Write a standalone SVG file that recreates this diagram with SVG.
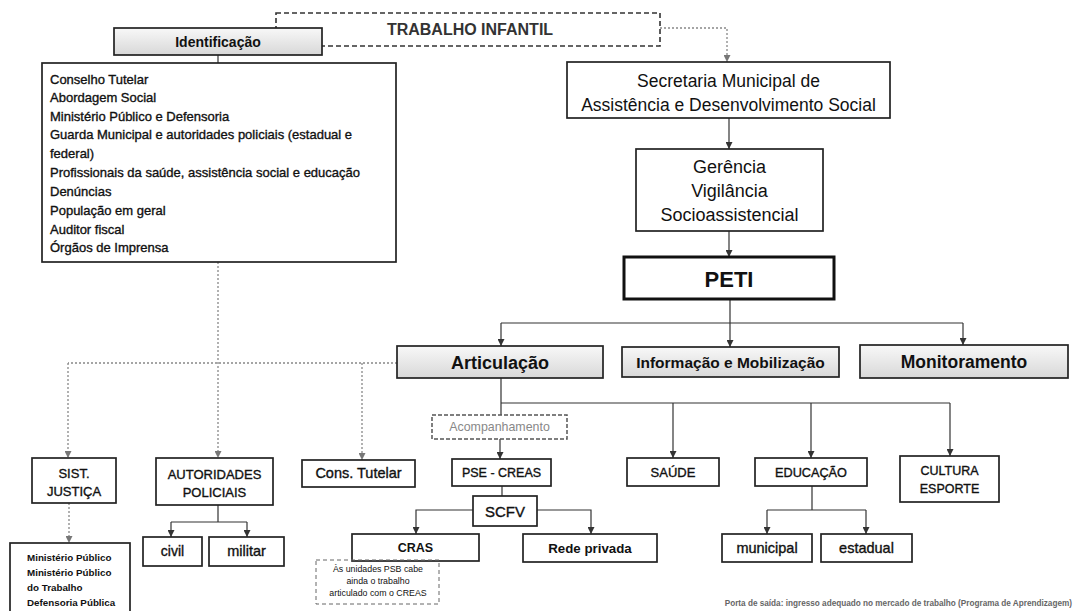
<svg xmlns="http://www.w3.org/2000/svg" width="1078" height="611" viewBox="0 0 1078 611">
<defs>
<linearGradient id="gf" x1="0" y1="0" x2="0" y2="1">
<stop offset="0" stop-color="#f8f8f8"/>
<stop offset="1" stop-color="#d8d8d8"/>
</linearGradient>
<marker id="ab" viewBox="0 0 8 8" refX="8" refY="4" markerWidth="7" markerHeight="7" markerUnits="userSpaceOnUse" orient="auto">
<path d="M0,0 L8,4 L0,8 z" fill="#333"/>
</marker>
<marker id="ag" viewBox="0 0 8 8" refX="8" refY="4" markerWidth="7" markerHeight="7" markerUnits="userSpaceOnUse" orient="auto">
<path d="M0,0 L8,4 L0,8 z" fill="#777"/>
</marker>
</defs>
<style>
text{font-family:"Liberation Sans",Arial,sans-serif;fill:#111}
.box{fill:#fff;stroke:#222;stroke-width:1.7}
.gbox{fill:url(#gf);stroke:#222;stroke-width:1.7}
.c{text-anchor:middle}
.b{font-weight:bold}
.m{stroke:#111;stroke-width:0.35}
.solid{fill:none;stroke:#333;stroke-width:1.2}
.dot{fill:none;stroke:#888;stroke-width:1.3;stroke-dasharray:2 2}
</style>
<rect width="1078" height="611" fill="#fff"/>

<g id="connectors">
<path class="dot" d="M660,28 H727 V62" marker-end="url(#ag)"/>
<path class="solid" d="M218,55 V63"/>
<path class="solid" d="M729,118 V149" marker-end="url(#ab)"/>
<path class="solid" d="M729,231 V257" marker-end="url(#ab)"/>
<path class="solid" d="M730,299 V323 M501,323 H963"/>
<path class="solid" d="M501,323 V346" marker-end="url(#ab)"/>
<path class="solid" d="M730,323 V347" marker-end="url(#ab)"/>
<path class="solid" d="M963,323 V345" marker-end="url(#ab)"/>
<path class="dot" d="M397,363 H68"/>
<path class="dot" d="M68,363 V458" marker-end="url(#ag)"/>
<path class="dot" d="M218,262 V458" marker-end="url(#ag)"/>
<path class="dot" d="M362,363 V460" marker-end="url(#ag)"/>
<path class="dot" d="M69,503 V543" marker-end="url(#ag)"/>
<path class="solid" d="M218,505 V522 M171,522 H247"/>
<path class="solid" d="M171,522 V537" marker-end="url(#ab)"/>
<path class="solid" d="M247,522 V537" marker-end="url(#ab)"/>
<path class="solid" d="M501,378 V415 M501,403 H950"/>
<path class="solid" d="M673,403 V458" marker-end="url(#ab)"/>
<path class="solid" d="M811,403 V458" marker-end="url(#ab)"/>
<path class="solid" d="M950,403 V456" marker-end="url(#ab)"/>
<path class="solid" d="M500,439 V459" marker-end="url(#ab)"/>
<path class="solid" d="M502,486 V496"/>
<path class="solid" d="M473,510 H416 V534" marker-end="url(#ab)"/>
<path class="solid" d="M537,510 H591 V534" marker-end="url(#ab)"/>
<path class="solid" d="M812,486 V510 M767,510 H866"/>
<path class="solid" d="M767,510 V534" marker-end="url(#ab)"/>
<path class="solid" d="M866,510 V534" marker-end="url(#ab)"/>
</g>

<g id="trabalho">
<rect x="276" y="13" width="384" height="33" fill="none" stroke="#333" stroke-width="1.6" stroke-dasharray="5 3"/>
<text x="470" y="35" class="c b" font-size="16" style="fill:#333">TRABALHO INFANTIL</text>
</g>
<g id="identificacao">
<rect class="gbox" x="114" y="28" width="208" height="27"/>
<text x="218" y="47" class="c b" font-size="14">Identificação</text>
</g>
<g id="lista" font-size="13">
<rect class="box" x="42" y="63" width="354" height="199"/>
<text class="m" x="50" y="84">Conselho Tutelar</text>
<text class="m" x="50" y="102">Abordagem Social</text>
<text class="m" x="50" y="121">Ministério Público e Defensoria</text>
<text class="m" x="50" y="139">Guarda Municipal e autoridades policiais (estadual e</text>
<text class="m" x="50" y="158">federal)</text>
<text class="m" x="50" y="177">Profissionais da saúde, assistência social e educação</text>
<text class="m" x="50" y="196">Denúncias</text>
<text class="m" x="50" y="215">População em geral</text>
<text class="m" x="50" y="234">Auditor fiscal</text>
<text class="m" x="50" y="252">Órgãos de Imprensa</text>
</g>
<g id="secretaria">
<rect class="box" x="567" y="62" width="323" height="56"/>
<text x="728.5" y="87" class="c" font-size="17.5">Secretaria Municipal de</text>
<text x="728.5" y="111" class="c" font-size="17.5">Assistência e Desenvolvimento Social</text>
</g>
<g id="gerencia">
<rect class="box" x="636" y="149" width="187" height="82"/>
<text x="729.5" y="173" class="c" font-size="18">Gerência</text>
<text x="729.5" y="197" class="c" font-size="18">Vigilância</text>
<text x="729.5" y="221" class="c" font-size="18">Socioassistencial</text>
</g>
<g id="peti">
<rect x="624" y="257" width="210" height="42" fill="#fff" stroke="#111" stroke-width="3"/>
<text x="729" y="287" class="c b" font-size="22">PETI</text>
</g>
<g id="articulacao">
<rect class="gbox" x="397" y="346" width="206" height="32"/>
<text x="500" y="369" class="c b" font-size="18">Articulação</text>
</g>
<g id="informacao">
<rect class="gbox" x="622" y="347" width="217" height="30"/>
<text x="730.5" y="368" class="c b" font-size="15.5">Informação e Mobilização</text>
</g>
<g id="monitoramento">
<rect class="gbox" x="860" y="345" width="208" height="33"/>
<text x="964" y="368" class="c b" font-size="17.5">Monitoramento</text>
</g>
<g id="sist">
<rect class="box" x="32" y="458" width="84" height="45"/>
<text x="74" y="478" class="c m" font-size="13">SIST.</text>
<text x="74" y="496" class="c m" font-size="13">JUSTIÇA</text>
</g>
<g id="autoridades">
<rect class="box" x="156" y="458" width="117" height="47"/>
<text x="214.5" y="479" class="c m" font-size="13">AUTORIDADES</text>
<text x="214.5" y="497" class="c m" font-size="13">POLICIAIS</text>
</g>
<g id="cons">
<rect class="box" x="302" y="460" width="113" height="27"/>
<text x="358.5" y="478" class="c m" font-size="14.5">Cons. Tutelar</text>
</g>
<g id="acompanhamento">
<rect x="432" y="415" width="135" height="24" fill="#fff" stroke="#555" stroke-width="1.5" stroke-dasharray="4 2"/>
<text x="499.5" y="431" class="c" font-size="12.4" style="fill:#888">Acompanhamento</text>
</g>
<g id="pse">
<rect class="box" x="452" y="459" width="99" height="27"/>
<text x="501.5" y="477" class="c m" font-size="12.5">PSE - CREAS</text>
</g>
<g id="scfv">
<rect class="box" x="473" y="496" width="64" height="30"/>
<text x="505" y="517" class="c m" font-size="15">SCFV</text>
</g>
<g id="cras">
<rect class="box" x="352" y="534" width="127" height="27"/>
<text x="415.5" y="552" class="c b" font-size="12.5">CRAS</text>
</g>
<g id="nota">
<rect x="316" y="560" width="123" height="44" fill="none" stroke="#666" stroke-width="1" stroke-dasharray="4 3"/>
<text x="378" y="572" class="c" font-size="8.8">Às unidades PSB cabe</text>
<text x="378" y="584" class="c" font-size="8.8">ainda o trabalho</text>
<text x="378" y="596" class="c" font-size="8.8">articulado com o CREAS</text>
</g>
<g id="rede">
<rect class="box" x="523" y="534" width="134" height="28"/>
<text x="590" y="553" class="c b" font-size="13.3">Rede privada</text>
</g>
<g id="saude">
<rect class="box" x="627" y="458" width="92" height="28"/>
<text x="673" y="477" class="c m" font-size="13">SAÚDE</text>
</g>
<g id="educacao">
<rect class="box" x="755" y="458" width="112" height="28"/>
<text x="811" y="477" class="c m" font-size="12.7">EDUCAÇÃO</text>
</g>
<g id="cultura">
<rect class="box" x="900" y="456" width="99" height="46"/>
<text x="949.5" y="475" class="c m" font-size="12.5">CULTURA</text>
<text x="949.5" y="493" class="c m" font-size="12.5">ESPORTE</text>
</g>
<g id="civil">
<rect class="box" x="143" y="537" width="59" height="29"/>
<text x="172.5" y="556" class="c m" font-size="14">civil</text>
</g>
<g id="militar">
<rect class="box" x="209" y="537" width="75" height="29"/>
<text x="246.5" y="556" class="c m" font-size="14.5">militar</text>
</g>
<g id="municipal">
<rect class="box" x="722" y="534" width="90" height="28"/>
<text x="767" y="553" class="c m" font-size="14.5">municipal</text>
</g>
<g id="estadual">
<rect class="box" x="821" y="534" width="91" height="28"/>
<text x="866.5" y="553" class="c m" font-size="14.5">estadual</text>
</g>
<g id="ministerio">
<rect class="box" x="10" y="543" width="120" height="72"/>
<text x="27" y="561" class="b" font-size="9.8">Ministério Público</text>
<text x="27" y="576" class="b" font-size="9.8">Ministério Público</text>
<text x="27" y="591" class="b" font-size="9.8">do Trabalho</text>
<text x="27" y="606" class="b" font-size="9.8">Defensoria Pública</text>
</g>
<g id="porta">
<text x="1072" y="606" font-size="8.2" text-anchor="end" class="b" style="fill:#666">Porta de saída: ingresso adequado no mercado de trabalho (Programa de Aprendizagem)</text>
</g>
</svg>
